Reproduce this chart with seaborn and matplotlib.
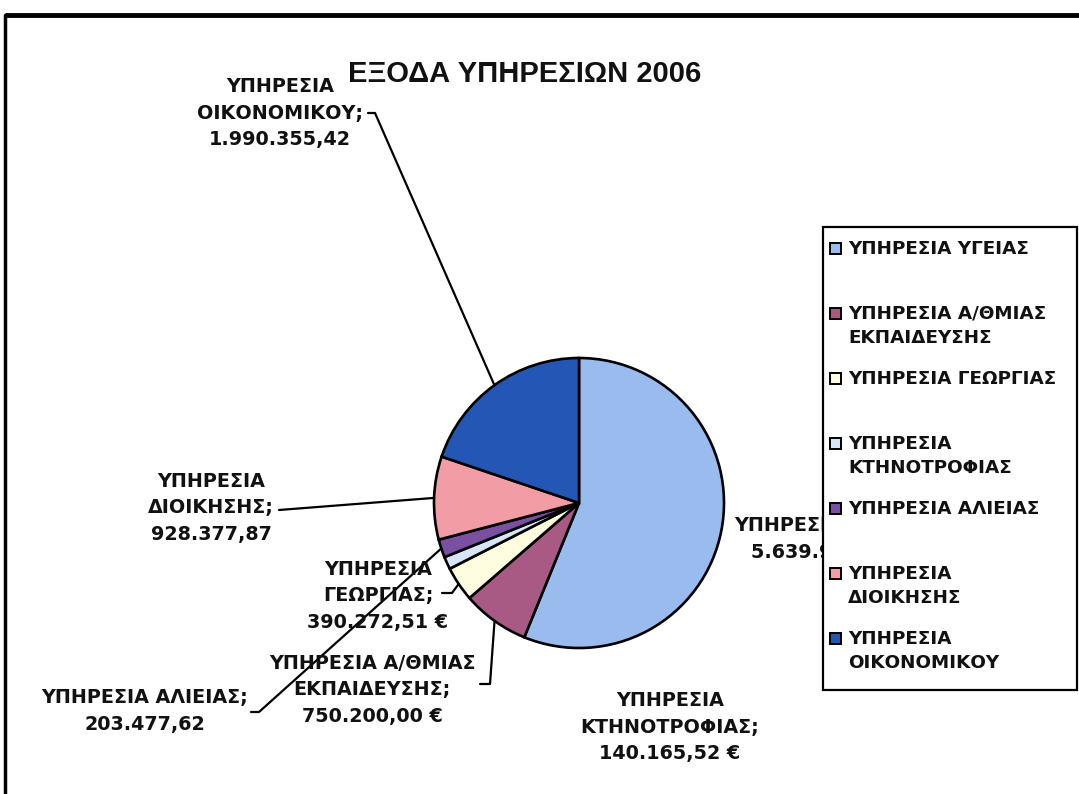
import matplotlib
matplotlib.use("Agg")
import numpy as np
import matplotlib.pyplot as plt
import seaborn as sns
from matplotlib.patches import Rectangle

# data
services = ["ΥΓΕΙΑΣ", "Α/ΘΜΙΑΣ ΕΚΠΑΙΔΕΥΣΗΣ", "ΓΕΩΡΓΙΑΣ", "ΚΤΗΝΟΤΡΟΦΙΑΣ",
            "ΑΛΙΕΙΑΣ", "ΔΙΟΙΚΗΣΗΣ", "ΟΙΚΟΝΟΜΙΚΟΥ"]
expenses = [5639950.00, 750200.00, 390272.51, 140165.52, 203477.62, 928377.87, 1990355.42]
euro_sign = [True, True, True, True, False, False, False]
slice_names = ["ΥΠΗΡΕΣΙΑ ΥΓΕΙΑΣ", "ΥΠΗΡΕΣΙΑ Α/ΘΜΙΑΣ\nΕΚΠΑΙΔΕΥΣΗΣ", "ΥΠΗΡΕΣΙΑ\nΓΕΩΡΓΙΑΣ",
               "ΥΠΗΡΕΣΙΑ\nΚΤΗΝΟΤΡΟΦΙΑΣ", "ΥΠΗΡΕΣΙΑ ΑΛΙΕΙΑΣ", "ΥΠΗΡΕΣΙΑ\nΔΙΟΙΚΗΣΗΣ",
               "ΥΠΗΡΕΣΙΑ\nΟΙΚΟΝΟΜΙΚΟΥ"]
legend_names = ["ΥΠΗΡΕΣΙΑ ΥΓΕΙΑΣ", "ΥΠΗΡΕΣΙΑ Α/ΘΜΙΑΣ\nΕΚΠΑΙΔΕΥΣΗΣ", "ΥΠΗΡΕΣΙΑ ΓΕΩΡΓΙΑΣ",
                "ΥΠΗΡΕΣΙΑ\nΚΤΗΝΟΤΡΟΦΙΑΣ", "ΥΠΗΡΕΣΙΑ ΑΛΙΕΙΑΣ", "ΥΠΗΡΕΣΙΑ\nΔΙΟΙΚΗΣΗΣ",
                "ΥΠΗΡΕΣΙΑ\nΟΙΚΟΝΟΜΙΚΟΥ"]
colors = ["#99BBEE", "#A95A84", "#FFFCE0", "#D6E6F8", "#7A50A2", "#F29CA6", "#2457B5"]

# layout (image pixel coords, y downward)
W, H = 1079, 794
pie_center = (579, 503)
pie_radius = 145
label_pos = [(832, 539), (372, 690), (378, 596), (670, 727), (145, 711), (211, 508), (280, 113)]
leader_paths = [None, [(480, 684), (490, 684)], [(442, 593), (452, 593)], None,
                [(251, 712), (259, 712)], [(279, 510)], [(368, 113), (375, 113)]]


def fy(y):
    return H - y


def greek_money(v, euro):
    s = f"{v:,.2f}".replace(",", "X").replace(".", ",").replace("X", ".")
    return s + (" €" if euro else "")


sns.set_style("white")
plt.rcParams['font.family'] = ['DejaVu Sans']

fig = plt.figure(figsize=(W / 100, H / 100), dpi=100)
fig.patch.set_facecolor("white")
ax = fig.add_axes([0, 0, 1, 1])

wedges, _ = ax.pie(
    expenses,
    colors=colors,
    startangle=90,
    counterclock=False,
    center=(pie_center[0], fy(pie_center[1])),
    radius=pie_radius,
    wedgeprops=dict(edgecolor="black", linewidth=1.9),
)
ax.set_xlim(0, W)
ax.set_ylim(0, H)
ax.set_aspect("equal")
ax.axis("off")

# data labels with leader lines
for i, w in enumerate(wedges):
    text = f"{slice_names[i]};\n{greek_money(expenses[i], euro_sign[i])}"
    lx, ly = label_pos[i]
    ax.text(lx, fy(ly), text, ha="center", va="center", fontsize=13.8,
            fontweight="bold", linespacing=1.5, color="#111111", zorder=3)
    if leader_paths[i] is None:
        continue
    ang = np.deg2rad((w.theta1 + w.theta2) / 2)
    ax_x = w.center[0] + w.r * np.cos(ang)
    ax_y = w.center[1] + w.r * np.sin(ang)
    xs = [p[0] for p in leader_paths[i]] + [ax_x]
    ys = [fy(p[1]) for p in leader_paths[i]] + [ax_y]
    ax.plot(xs, ys, color="black", linewidth=1.6, zorder=2)

# title
ax.text(525, fy(74), "ΕΞΟΔΑ ΥΠΗΡΕΣΙΩΝ 2006", ha="center", va="center",
        fontsize=21, fontweight="bold", family=["Liberation Sans", "DejaVu Sans"],
        color="#111111")

# legend box, drawn like the spreadsheet one (marker on first line)
ax.add_patch(Rectangle((823, fy(690)), 1077 - 823, 690 - 227, facecolor="white",
                       edgecolor="black", linewidth=1.6, zorder=5))
for i, name in enumerate(legend_names):
    y = 248 + 65 * i
    ax.add_patch(Rectangle((830, fy(y) - 5.5), 11, 11, facecolor=colors[i],
                           edgecolor="black", linewidth=1.4, zorder=6))
    ax.text(848, fy(y) + 8, name, ha="left", va="top", fontsize=13.2,
            fontweight="bold", linespacing=1.45, color="#111111", zorder=6)

# chart area frame
ax.plot([5, W], [fy(15), fy(15)], color="black", linewidth=3.5, zorder=7,
        solid_capstyle="butt")
ax.plot([5, 5], [fy(15), 0], color="black", linewidth=2.5, zorder=7)

fig.savefig("out.png", dpi=100)
